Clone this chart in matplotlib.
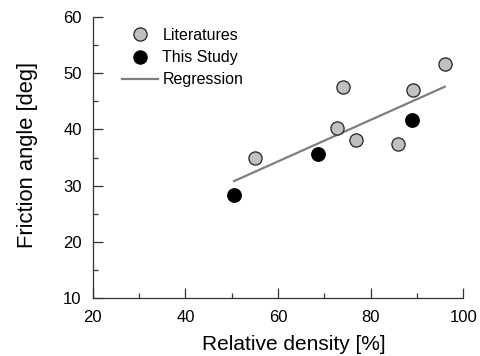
import matplotlib
matplotlib.use('Agg')
import matplotlib.pyplot as plt
from matplotlib.ticker import MultipleLocator
from matplotlib.lines import Line2D

plt.rcParams['font.family'] = ['Liberation Sans', 'DejaVu Sans']

# literature data
lit_density = [55.0, 72.8, 74.0, 76.9, 86.0, 89.1, 96.0]
lit_angle = [34.9, 40.2, 47.5, 38.1, 37.4, 47.0, 51.6]

# this study
our_density = [50.5, 68.6, 88.9]
our_angle = [28.4, 35.6, 41.6]

# regression line end points
reg_density = [50.5, 96.0]
reg_angle = [30.8, 47.6]

fig = plt.figure(figsize=(4.81, 3.56), dpi=100)
ax = fig.add_axes([0.193, 0.163, 0.77, 0.789])

ax.plot(reg_density, reg_angle, color='#7f7f7f', lw=1.6, zorder=2)
ax.scatter(lit_density, lit_angle, s=90, facecolor='#c0c0c0', edgecolor='#222222', lw=0.9, zorder=3)
ax.scatter(our_density, our_angle, s=95, facecolor='black', edgecolor='black', lw=0.9, zorder=3)

ax.set_xlim(20, 100)
ax.set_ylim(10, 60)
ax.xaxis.set_major_locator(MultipleLocator(20))
ax.xaxis.set_minor_locator(MultipleLocator(10))
ax.yaxis.set_major_locator(MultipleLocator(10))
ax.yaxis.set_minor_locator(MultipleLocator(5))
ax.tick_params(which='major', direction='in', length=7, width=0.9, color='#333333', labelsize=12)
ax.tick_params(axis='x', which='major', pad=9)
ax.tick_params(axis='y', which='major', pad=8)
ax.tick_params(which='minor', direction='in', length=3.5, width=0.9, color='#333333')
for s in ['top', 'right']:
    ax.spines[s].set_visible(False)
for s in ['left', 'bottom']:
    ax.spines[s].set_color('#333333')
    ax.spines[s].set_linewidth(0.9)

ax.set_xlabel('Relative density [%]', fontsize=15, labelpad=7)
ax.xaxis.label.set_x(0.543)
ax.set_ylabel('Friction angle [deg]', fontsize=15.8, labelpad=18)
ax.yaxis.label.set_y(0.51)

handles = [
    Line2D([], [], marker='o', ls='none', ms=9.5, mfc='#c0c0c0', mec='#222222', mew=0.9),
    Line2D([], [], marker='o', ls='none', ms=9.5, mfc='black', mec='black', mew=0.9),
    Line2D([], [], color='#7f7f7f', lw=1.6),
]
ax.legend(handles, ['Literatures', 'This Study', 'Regression'], loc='upper left',
          bbox_to_anchor=(0.078, 0.961), frameon=False, fontsize=11.5,
          handlelength=2.3, handletextpad=0.25, labelspacing=0.45, borderaxespad=0,
          borderpad=0)

fig.savefig('out.png', dpi=100)
